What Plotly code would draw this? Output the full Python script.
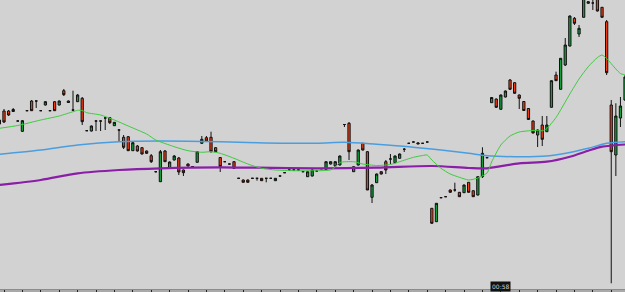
import plotly.graph_objects as go

# ---- candle data (index = bar number, prices in chart units) ----
opens = [176, 189, 189, 188.5, 179, 168.7, 189.3, 199, 199, 189.3,
         195, 189.3, 198.3, 195, 209.3, 199, 190, 198.3, 201.7, 169.3,
         169, 179, 179, 182, 182.3, 174.3, 170, 162.7, 163.3, 149.3,
         154, 152.3, 149, 144.3, 128.3, 118.3, 149, 132, 140, 142,
         130, 136, 133.5, 137.7, 156.7, 162.3, 162.7, 152.3, 142.5, 138.3,
         136, 138.3, 121.7, 120, 120, 121.7, 121.7, 121.7, 121.7, 121.7,
         119.3, 124, 127.3, 130, 130, 130, 128.3, 123.3, 124, 129,
         131.3, 130.7, 136, 134, 135, 175.5, 176.7, 128.3, 135, 156.7,
         148.3, 102.7, 117.3, 128.3, 138.3, 141, 137.3, 141.7, 150.7, 156.7,
         158, 156, 156.7, 158, 91.7, 78.3, 102.3, 103.3, 110, 110,
         107.7, 107.3, 117.7, 109.3, 105, 123.3, 142.3, 197.3, 201, 190.7,
         203, 220, 217.3, 205, 198.5, 191.5, 179, 165, 175, 168.3,
         192.7, 225, 210.7, 235, 254, 281.7, 266, 282.7, 296.7, 297,
         303, 292.7, 278.3, 195, 145, 182, 200]
highs = [182, 191, 190, 192, 179.5, 180, 189.5, 200, 199.5, 189.5,
         198.8, 189.5, 199, 199.5, 211, 199.5, 209.3, 206, 203, 169.5,
         174.5, 179.5, 179.5, 183, 183, 178, 170.5, 165, 164, 158,
         155, 153, 149.5, 146, 129, 150, 150, 138.5, 145, 143,
         130.5, 136.5, 134, 148.5, 164, 164, 168.3, 153, 143, 138.5,
         136.3, 139, 122, 120.5, 120.5, 122, 122, 122, 122, 122,
         122, 124.3, 127.6, 130.3, 130.3, 130.3, 128.6, 128.5, 130.5, 129.3,
         131.6, 138.5, 138.5, 138.5, 144.5, 176, 178, 133.5, 150.5, 157,
         149, 116, 126.5, 128.5, 140, 146, 144.5, 146.5, 152, 157,
         158.3, 157.2, 157, 158.3, 92, 97, 102.6, 103.6, 110.5, 117.3,
         108, 115.5, 118, 109.5, 123.5, 152.7, 142.6, 203, 201.5, 205.5,
         209.5, 221, 218, 205.5, 199, 192, 179.5, 170.5, 184, 184,
         219.5, 228.3, 242, 262, 284.5, 283, 275, 305, 298.5, 302,
         305, 293, 280, 200, 196.7, 203, 225]
lows = [174, 177, 184, 188, 178.5, 168, 189, 189, 192, 189,
        194.5, 189, 189, 194.5, 204, 197, 189, 198, 175, 169,
        168.5, 169, 169, 170, 176, 174, 158.3, 151, 149, 149,
        148.5, 145.5, 146, 137, 127.5, 118, 138, 131.5, 139.5, 125,
        124, 133.5, 133, 137.5, 156, 158, 147.5, 148, 128, 138,
        135.7, 131, 121.4, 117.5, 117.5, 121.4, 119.3, 119, 117.7, 121.4,
        119, 123.7, 127, 129.7, 129.7, 129.7, 128, 123, 123.5, 128.7,
        131, 130.5, 135.5, 133.5, 134.5, 173, 140, 128, 134.5, 149.5,
        110, 97, 117, 125.5, 126, 136, 137, 141.5, 148, 156.4,
        157.7, 155.8, 156.4, 157.7, 76.5, 78, 102, 103, 107.5, 108.3,
        103, 107, 107.5, 103, 104.5, 122, 142, 197, 192, 190.5,
        202.5, 210, 206.5, 191, 189, 180, 166.5, 153, 154, 168,
        192.5, 219, 210.5, 234, 253.5, 275, 263, 282.5, 296.5, 290,
        288.5, 282.5, 225, 16.7, 124, 173, 199]
closes = [180, 178, 185, 190.5, 179, 179.3, 189.3, 189.3, 199, 189.3,
          198.3, 189.3, 189.3, 199, 205.3, 197.5, 190, 205, 178.3, 169.3,
          174, 179, 179, 182, 177.3, 177.7, 170, 152.7, 149.3, 157.3,
          149, 146, 146.7, 138.3, 128.3, 148.3, 138.3, 138, 144, 128,
          127.3, 134, 133.5, 148.3, 160.7, 159, 148.3, 148.3, 133.5, 138.3,
          136, 131.7, 121.7, 117.7, 117.7, 121.7, 121.7, 119.3, 121.7, 121.7,
          121.7, 124, 127.3, 130, 130, 130, 128.3, 128.3, 130, 129,
          131.3, 138.3, 138.3, 138.3, 144, 175.5, 148.3, 133.3, 150, 150,
          110, 115, 126, 126, 130, 141, 144, 146, 150.7, 156.7,
          158, 157, 156.7, 158, 76.7, 96.7, 102.3, 103.3, 107.7, 110,
          103.3, 115, 107.7, 103.3, 123.3, 146.7, 142.3, 202.5, 192.7, 205,
          209, 210.7, 206.7, 201.7, 189.5, 180.5, 167, 170, 160.7, 175,
          219.3, 219.3, 241.7, 255, 284, 276.7, 271.7, 303, 298.3, 297,
          289, 282.7, 227.3, 148.3, 184, 194, 223]
bars = list(range(len(opens)))

# ---- moving averages (sampled at bar numbers) ----
ma_fast_x = [0, 4, 9, 13, 16, 17, 18, 19, 22, 25, 28, 32, 34, 38, 41, 44, 46, 48, 51, 54,
             57, 60, 64, 69, 72, 73, 74, 77, 79, 82, 85, 87, 90, 92, 93, 94, 96, 98, 100, 102,
             104, 106, 107, 109, 111, 113, 116, 118, 119, 121, 124, 126, 128, 130, 131, 132, 134, 135, 136]
ma_fast_y = [171.7, 174.5, 180, 184, 188.3, 189.7, 189.5, 187.3, 185, 180,
             174, 166, 160, 153.3, 149.3, 147.7, 148.3, 146.7, 141.7, 136,
             131.7, 130, 129.3, 129.3, 130, 133, 137.5, 138.3, 136, 134.5,
             135.5, 138.3, 142.7, 144.5, 145, 140, 131.7, 126, 122.7, 120,
             122, 127, 138, 155, 164, 168, 169.5, 169.3, 171.5, 182.5,
             206, 221, 233.3, 242.5, 245, 241.5, 231, 226.5, 225]
ma_mid_x = [0, 9, 17, 26, 35, 48, 56, 69, 75, 82, 89, 96, 102, 106, 112, 119, 124, 128, 132, 136]
ma_mid_y = [145.7, 150, 155, 158.3, 159, 158.3, 157.3, 156.7, 157.7, 155.7,
            153.3, 150, 146.7, 144.3, 143.3, 144, 147.5, 151.7, 156.7, 158.3]
ma_slow_x = [0, 9, 17, 26, 35, 48, 56, 69, 82, 94, 102, 106, 113, 119, 124, 128, 131, 136]
ma_slow_y = [115, 120, 126.7, 130, 131.7, 132.7, 132.3, 131.7, 132.3, 134,
             132, 131.7, 136.7, 138.3, 143.3, 149.3, 153.3, 155.5]

tick_bars = list(range(1, 137, 4))
time_label = "00:58"
time_label_bar = 109

fig = go.Figure()
fig.add_trace(go.Scatter(x=ma_slow_x, y=ma_slow_y, mode="lines",
                         line=dict(color="#8a1ea6", width=2.2, shape="spline", smoothing=0.8),
                         hoverinfo="skip"))
fig.add_trace(go.Scatter(x=ma_mid_x, y=ma_mid_y, mode="lines",
                         line=dict(color="#4a9ee0", width=1.5, shape="spline", smoothing=0.8),
                         hoverinfo="skip"))
fig.add_trace(go.Scatter(x=ma_fast_x, y=ma_fast_y, mode="lines",
                         line=dict(color="#3ccc3c", width=1, shape="spline", smoothing=0.6),
                         hoverinfo="skip"))
fig.add_trace(go.Candlestick(
    x=bars, open=opens, high=highs, low=lows, close=closes,
    increasing=dict(fillcolor="#12a03a", line=dict(color="#111111", width=1)),
    decreasing=dict(fillcolor="#f03c14", line=dict(color="#111111", width=1)),
    whiskerwidth=0,
))

# time label box sitting on the bottom axis
fig.add_annotation(x=time_label_bar, xref="x", y=0, yref="paper", yanchor="bottom",
                   yshift=-3,
                   text=time_label, showarrow=False,
                   font=dict(family="DejaVu Sans", size=6, color="#d0d0d0"),
                   bgcolor="#111111", borderpad=1)

fig.update_layout(
    width=625, height=292, autosize=False,
    margin=dict(l=0, r=0, t=0, b=3),
    paper_bgcolor="#a9a9a9", plot_bgcolor="#d2d2d2",
    showlegend=False,
    xaxis=dict(range=[0.1304, 135.99], showgrid=False, zeroline=False,
               showticklabels=False, ticks="outside", ticklen=3, tickwidth=1,
               tickcolor="#222222", tickvals=tick_bars,
               showline=True, linecolor="#8c8c8c", linewidth=1,
               rangeslider=dict(visible=False)),
    yaxis=dict(range=[11, 300], showgrid=False, zeroline=False, showticklabels=False),
)

fig.write_html("out.html")
